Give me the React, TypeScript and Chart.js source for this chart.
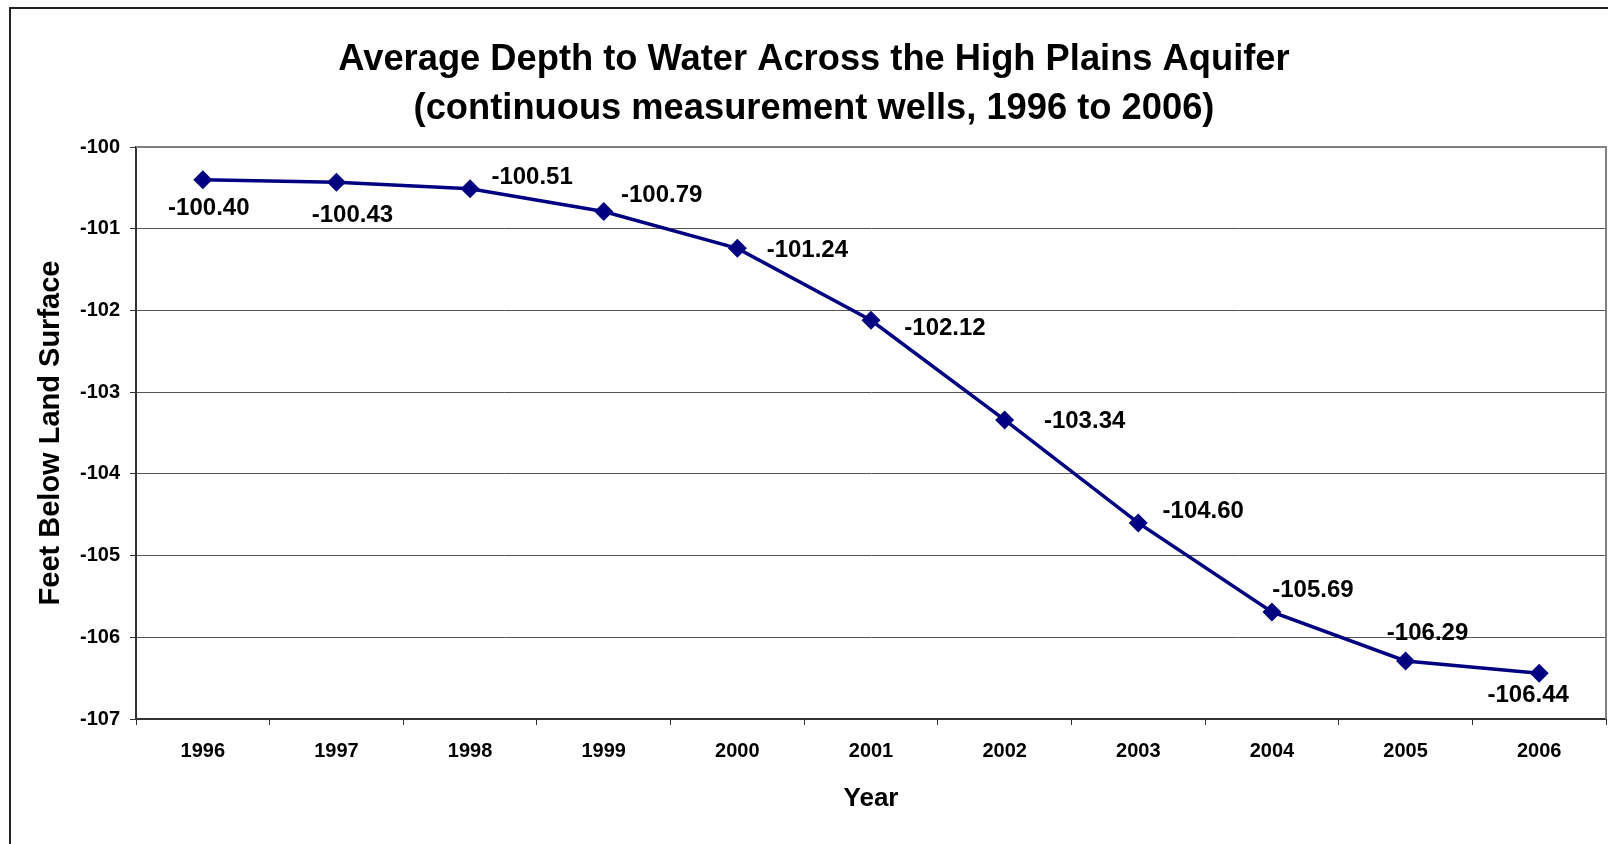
import React, { useEffect, useRef } from "react";
import { Chart, registerables } from "chart.js";

Chart.register(...registerables);

const years = ["1996", "1997", "1998", "1999", "2000", "2001", "2002", "2003", "2004", "2005", "2006"];
const depthValues = [-100.4, -100.43, -100.51, -100.79, -101.24, -102.12, -103.34, -104.6, -105.69, -106.29, -106.44];
const titleLines = ["Average Depth to Water Across the High Plains Aquifer", "(continuous measurement wells, 1996 to 2006)"];
const xAxisTitle = "Year";
const yAxisTitle = "Feet Below Land Surface";
const yMin = -107;
const yMax = -100;

// label placement (pixel offsets from each point, style only)
const labelDx = [6, 16, 62, 58, 70, 74, 80, 65, 41, 22, -11];
const labelDy = [27, 31, -13, -18, 0, 6, 0, -13, -23, -29, 20];

const FONT = "'Liberation Sans', Arial, sans-serif";

const framePlugin = {
  id: "frame",
  beforeDatasetsDraw(chart: any) {
    const { ctx, chartArea } = chart;
    ctx.save();
    ctx.strokeStyle = "#808080";
    ctx.lineWidth = 2;
    ctx.beginPath();
    ctx.moveTo(chartArea.left, chartArea.top);
    ctx.lineTo(chartArea.right, chartArea.top);
    ctx.lineTo(chartArea.right, chartArea.bottom);
    ctx.stroke();
    ctx.restore();
  },
  afterDraw(chart: any) {
    const { ctx } = chart;
    ctx.save();
    ctx.strokeStyle = "#222";
    ctx.lineWidth = 2;
    ctx.strokeRect(10, 8, 1700, 900);
    ctx.restore();
  },
};

const labelPlugin = {
  id: "pointLabels",
  afterDatasetsDraw(chart: any) {
    const { ctx } = chart;
    const meta = chart.getDatasetMeta(0);
    ctx.save();
    ctx.font = `bold 24px ${FONT}`;
    ctx.fillStyle = "#000";
    ctx.textAlign = "center";
    ctx.textBaseline = "alphabetic";
    meta.data.forEach((pt: any, i: number) => {
      const v = depthValues[i];
      ctx.fillText(v.toFixed(2), pt.x + labelDx[i], pt.y + labelDy[i] + 8.5);
    });
    ctx.restore();
  },
};

export default function App() {
  const ref = useRef<HTMLCanvasElement>(null);
  useEffect(() => {
    if (!ref.current) return;
    const chart = new Chart(ref.current, {
      type: "line",
      data: {
        labels: years,
        datasets: [
          {
            data: depthValues,
            borderColor: "#000080",
            backgroundColor: "#000080",
            borderWidth: 3.5,
            pointStyle: "rectRot",
            pointRadius: 9.5,
            pointBackgroundColor: "#000080",
            pointBorderColor: "#000080",
            pointBorderWidth: 0,
            tension: 0,
          },
        ],
      },
      options: {
        responsive: false,
        animation: false,
        layout: { autoPadding: false, padding: { left: 22, right: 2, top: 0, bottom: 0 } },
        plugins: {
          legend: { display: false },
          tooltip: { enabled: false },
          title: {
            display: true,
            text: titleLines,
            color: "#000",
            font: { family: FONT, size: 36.3, weight: "bold", lineHeight: 1.35 },
            padding: { top: 35, bottom: 14 },
          },
        },
        scales: {
          x: {
            type: "category",
            offset: true,
            grid: {
              display: true,
              offset: true,
              drawOnChartArea: false,
              drawTicks: true,
              tickLength: 6,
              tickColor: "#333",
              lineWidth: 1,
            },
            border: { display: true, color: "#333", width: 2 },
            ticks: {
              color: "#000",
              font: { family: FONT, size: 20, weight: "bold" },
              padding: 14,
              maxRotation: 0,
              autoSkip: false,
            },
            title: {
              display: true,
              text: xAxisTitle,
              color: "#000",
              font: { family: FONT, size: 26, weight: "bold" },
              padding: { top: 0, bottom: 30 },
            },
            afterFit(scale: any) {
              scale.height = 125;
              scale.paddingLeft = 0;
              scale.paddingRight = 0;
            },
          },
          y: {
            min: yMin,
            max: yMax,
            ticks: {
              stepSize: 1,
              color: "#000",
              font: { family: FONT, size: 20, weight: "bold" },
              padding: 10,
            },
            grid: {
              color: "#555",
              lineWidth: 1,
              tickLength: 6,
              tickColor: "#333",
            },
            border: { display: true, color: "#333", width: 2 },
            title: {
              display: true,
              text: yAxisTitle,
              color: "#000",
              font: { family: FONT, size: 29, weight: "bold" },
              padding: { top: 12, bottom: 0 },
            },
            afterFit(scale: any) {
              scale.width = 114;
            },
          },
        },
      },
      plugins: [framePlugin, labelPlugin],
    });
    return () => chart.destroy();
  }, []);
  return (
    <div style={{ position: "fixed", left: 0, top: 0, width: 1608, height: 844, background: "#fff" }}>
      <canvas ref={ref} width={1608} height={844} style={{ display: "block" }} />
    </div>
  );
}
